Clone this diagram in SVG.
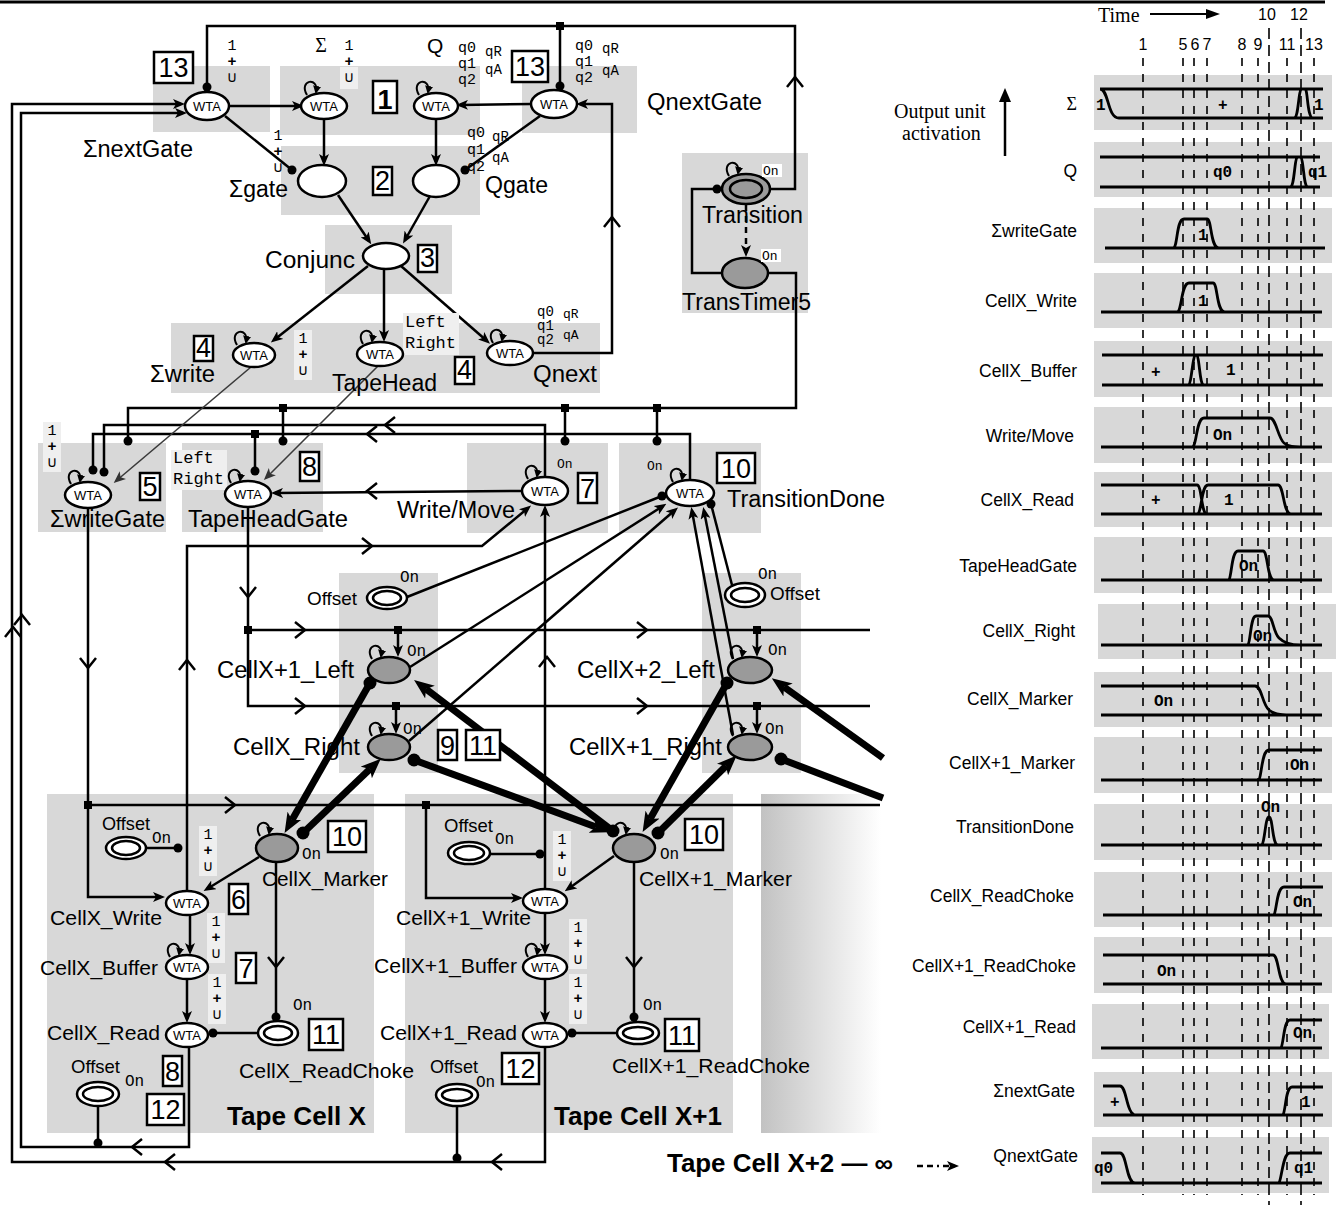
<svg xmlns="http://www.w3.org/2000/svg" width="1336" height="1205" viewBox="0 0 1336 1205">
<defs>
<style>
.box{fill:#d8d8d8}
.ln{fill:none;stroke:#000;stroke-width:2.5}
.ar{marker-end:url(#ah)}
.dt{marker-end:url(#dot)}
.thin{fill:none;stroke:#3a3a3a;stroke-width:1.6;marker-end:url(#ahg)}
.thick{fill:none;stroke:#000;stroke-width:7}
.wta{fill:#fff;stroke:#000;stroke-width:2.5}
.gn{fill:#9a9a9a;stroke:#000;stroke-width:2.5}
.wt{font-family:"Liberation Sans",Arial,sans-serif;font-size:13px;text-anchor:middle}
.t{font-family:"Liberation Sans",Arial,sans-serif;font-size:23.5px}
.tc{font-family:"Liberation Sans",Arial,sans-serif;font-size:21px}
.of{font-family:"Liberation Sans",Arial,sans-serif;font-size:19px}
.bt{font-family:"Liberation Sans",Arial,sans-serif;font-size:25px;font-weight:bold}
.nb{fill:#fff;stroke:#000;stroke-width:2.5}
.nt{font-family:"Liberation Sans",Arial,sans-serif;font-size:27px;text-anchor:middle}
.pl{font-family:"Liberation Mono","DejaVu Sans Mono",monospace;font-size:15px;text-anchor:middle}
.on{font-family:"Liberation Mono","DejaVu Sans Mono",monospace;font-size:16px}
.ons{font-family:"Liberation Mono","DejaVu Sans Mono",monospace;font-size:13px}
.q{font-family:"Liberation Mono","DejaVu Sans Mono",monospace;font-size:15px}
.qs{font-family:"Liberation Mono","DejaVu Sans Mono",monospace;font-size:14px}
.q2{font-family:"Liberation Mono","DejaVu Sans Mono",monospace;font-size:14px}
.qs2{font-family:"Liberation Mono","DejaVu Sans Mono",monospace;font-size:13px}
.lr{font-family:"Liberation Mono","DejaVu Sans Mono",monospace;font-size:17px}
.lb{fill:#efefef}
.sq{fill:#000}
.ch{fill:none;stroke:#000;stroke-width:2.5}
.rl{font-family:"Liberation Sans",Arial,sans-serif;font-size:17.5px;text-anchor:end}
.wv{fill:none;stroke:#000;stroke-width:2.8}
.cl{font-family:"Liberation Mono","DejaVu Sans Mono",monospace;font-size:16px;font-weight:bold}
.dl{stroke:#000;stroke-width:1.6;stroke-dasharray:8 8}
.dl2{stroke:#000;stroke-width:1.6;stroke-dasharray:11 6}
.sr{font-family:"Liberation Serif","Times New Roman",serif;font-size:20px}
.hd{font-family:"Liberation Sans",Arial,sans-serif;font-size:16px;text-anchor:middle}
</style>
<marker id="ah" markerUnits="userSpaceOnUse" viewBox="0 0 12 10" markerWidth="12" markerHeight="10" refX="8" refY="5" orient="auto"><path d="M0,0 L12,5 L0,10 L3,5z"/></marker>
<marker id="ahg" markerUnits="userSpaceOnUse" viewBox="0 0 12 10" markerWidth="12" markerHeight="10" refX="9" refY="5" orient="auto"><path d="M0,0 L12,5 L0,10 L3,5z" fill="#333"/></marker>
<marker id="ahs" markerUnits="userSpaceOnUse" viewBox="0 0 8 8" markerWidth="8" markerHeight="8" refX="6" refY="4" orient="auto"><path d="M0,0 L8,4 L0,8z"/></marker>
<marker id="dot" markerUnits="userSpaceOnUse" viewBox="0 0 10 10" markerWidth="10" markerHeight="10" refX="5" refY="5"><circle cx="5" cy="5" r="4.5"/></marker>
<marker id="ahT" markerUnits="userSpaceOnUse" viewBox="0 0 20 16" markerWidth="20" markerHeight="16" refX="5" refY="8" orient="auto"><path d="M0,0 L20,8 L0,16 L5,8z"/></marker>
<marker id="dotT" markerUnits="userSpaceOnUse" viewBox="0 0 14 14" markerWidth="14" markerHeight="14" refX="7" refY="7"><circle cx="7" cy="7" r="6.5"/></marker>
<path id="chev" class="ch" d="M-5,-8 L5,0 L-5,8"/>
<path id="loop" d="M-17,2 C-26,-13 -5,-17 -8,-1" fill="none" stroke="#000" stroke-width="2" marker-end="url(#ahs)"/>
<linearGradient id="gX2" x1="0" x2="1" y1="0" y2="0"><stop offset="0" stop-color="#c2c2c2"/><stop offset="1" stop-color="#fff"/></linearGradient>
</defs>

<rect width="1336" height="1205" fill="#fff"/>
<path d="M0,2 H1325" stroke="#000" stroke-width="3"/>

<g id="regions">
<rect class="box" x="153" y="66" width="117" height="66"/>
<rect class="box" x="280" y="66" width="200" height="69"/>
<rect class="box" x="522" y="66" width="115" height="67"/>
<rect class="box" x="281" y="146" width="199" height="69"/>
<rect class="box" x="325" y="225" width="127" height="69"/>
<rect class="box" x="171" y="323" width="429" height="70"/>
<rect class="box" x="682" y="153" width="126" height="160"/>
<rect class="box" x="38" y="443" width="128" height="89"/>
<rect class="box" x="182" y="443" width="141" height="89"/>
<rect class="box" x="467" y="443" width="141" height="90"/>
<rect class="box" x="619" y="443" width="142" height="90"/>
<rect class="box" x="339" y="573" width="99" height="200"/>
<rect class="box" x="702" y="573" width="99" height="200"/>
<rect class="box" x="47" y="794" width="327" height="339"/>
<rect class="box" x="405" y="794" width="328" height="339"/>
<rect x="761" y="794" width="120" height="339" fill="url(#gX2)"/>
</g>

<g id="connectors">
<path class="ln ar" d="M229,106 H300"/>
<path class="ln dt" d="M225,116 L292,170"/>
<path class="ln ar" d="M532,104 L460,105"/>
<path class="ln dt" d="M540,116 L465,170"/>
<path class="ln ar" d="M324,119 V162"/>
<path class="ln ar" d="M436,119 V162"/>
<path class="ln ar" d="M338,195 L369,241"/>
<path class="ln ar" d="M430,196 L405,240"/>
<path class="ln ar" d="M368,266 L274,340"/>
<path class="ln ar" d="M384,270 V338"/>
<path class="ln ar" d="M401,266 L487,341"/>
<path class="ln ar" d="M533,353 H612 V104 H580"/>
<path class="ln dt" d="M770,189 H795 V26 H207 V87"/>
<path class="ln dt" d="M560,26 V86"/>
<path class="ln dt" d="M722,273 H692 V189 H717"/>
<path class="ln ar" d="M746,205 V253" stroke-dasharray="6 5"/>
<path class="ln dt" d="M768,273 H796 V408 H128 V441"/>
<path class="ln dt" d="M283,408 V441"/>
<path class="ln dt" d="M565,408 V441"/>
<path class="ln dt" d="M657,408 V441"/>
<path class="ln dt" d="M545,477 V425 H104 V472"/>
<path class="ln dt" d="M690,480 V434 H93 V470"/>
<path class="ln dt" d="M255,434 V471"/>
<path class="ln ar" d="M522,491 L275,493"/>
<path class="ln ar" d="M187,891 V546 H482 L528,508"/>
<path class="ln ar" d="M545,889 V509"/>
<path class="ln" d="M88,508 V805 H880"/>
<path class="ln ar" d="M88,805 V897 H161"/>
<path class="ln ar" d="M426,805 V898 H519"/>
<path class="ln" d="M248,508 V706 H870 M248,630 H870"/>
<path class="ln ar" d="M398,630 V653"/>
<path class="ln ar" d="M396,706 V730"/>
<path class="ln ar" d="M757,630 V653"/>
<path class="ln ar" d="M757,706 V730"/>
<path class="thin" d="M251,367 L116,481"/>
<path class="thin" d="M378,366 L266,478"/>
<path class="ln ar" d="M545,1047 V1162 H12 V104 H181"/>
<path class="ln ar" d="M189,1047 V1147 H21 V113 H183"/>
<path class="ln dt" d="M457,1106 V1158"/>
<path class="ln dt" d="M98,1106 V1143"/>
<path class="ln dt" d="M407,597 L662,496"/>
<path class="ln ar" d="M410,667 L663,506"/>
<path class="ln ar" d="M409,741 L675,510"/>
<path class="ln dt" d="M732,585 L711,504"/>
<path class="ln ar" d="M733,659 L704,511"/>
<path class="ln ar" d="M733,735 L692,511"/>
<path class="thick" d="M370,683 L292,820" marker-start="url(#dotT)" marker-end="url(#ahT)"/>
<path class="thick" d="M303,833 L370,769" marker-start="url(#dotT)" marker-end="url(#ahT)"/>
<path class="thick" d="M414,760 L596,827" marker-start="url(#dotT)" marker-end="url(#ahT)"/>
<path class="thick" d="M613,831 L426,689" marker-start="url(#dotT)" marker-end="url(#ahT)"/>
<path class="thick" d="M727,683 L650,819" marker-start="url(#dotT)" marker-end="url(#ahT)"/>
<path class="thick" d="M658,833 L726,766" marker-start="url(#dotT)" marker-end="url(#ahT)"/>
<path class="thick" d="M883,758 L784,687" marker-end="url(#ahT)"/>
<path class="thick" d="M781,759 L883,798" marker-start="url(#dotT)"/>
<path class="ln dt" d="M146,848 H178"/>
<path class="ln ar" d="M259,857 L207,889"/>
<path class="ln dt" d="M276,862 V1017"/>
<path class="ln ar" d="M190,915 V951"/>
<path class="ln ar" d="M187,979 V1019"/>
<path class="ln dt" d="M258,1033 H213"/>
<path class="ln dt" d="M490,854 H540"/>
<path class="ln ar" d="M614,856 L568,889"/>
<path class="ln dt" d="M634,862 V1017"/>
<path class="ln ar" d="M545,913 V951"/>
<path class="ln ar" d="M545,979 V1019"/>
<path class="ln dt" d="M617,1033 H572"/>
<path class="ln ar" d="M917,1166 H955" stroke-dasharray="6 4 6 4 2 4"/>
<use href="#chev" transform="translate(612,222) rotate(-90)"/>
<use href="#chev" transform="translate(795,82) rotate(-90)"/>
<use href="#chev" transform="translate(390,425) rotate(180)"/>
<use href="#chev" transform="translate(372,434) rotate(180)"/>
<use href="#chev" transform="translate(372,491) rotate(180)"/>
<use href="#chev" transform="translate(367,546)"/>
<use href="#chev" transform="translate(187,665) rotate(-90)"/>
<use href="#chev" transform="translate(547,662) rotate(-90)"/>
<use href="#chev" transform="translate(88,663) rotate(90)"/>
<use href="#chev" transform="translate(230,805)"/>
<use href="#chev" transform="translate(248,592) rotate(90)"/>
<use href="#chev" transform="translate(300,630)"/>
<use href="#chev" transform="translate(642,630)"/>
<use href="#chev" transform="translate(300,706)"/>
<use href="#chev" transform="translate(642,706)"/>
<use href="#chev" transform="translate(276,962) rotate(90)"/>
<use href="#chev" transform="translate(634,962) rotate(90)"/>
<use href="#chev" transform="translate(13,632) rotate(-90)"/>
<use href="#chev" transform="translate(22,620) rotate(-90)"/>
<use href="#chev" transform="translate(170,1162) rotate(180)"/>
<use href="#chev" transform="translate(497,1162) rotate(180)"/>
<use href="#chev" transform="translate(137,1147) rotate(180)"/>
<rect class="sq" x="556" y="22" width="8" height="8"/>
<rect class="sq" x="279" y="404" width="8" height="8"/>
<rect class="sq" x="561" y="404" width="8" height="8"/>
<rect class="sq" x="653" y="404" width="8" height="8"/>
<rect class="sq" x="251" y="430" width="8" height="8"/>
<rect class="sq" x="244" y="626" width="8" height="8"/>
<rect class="sq" x="394" y="626" width="8" height="8"/>
<rect class="sq" x="753" y="626" width="8" height="8"/>
<rect class="sq" x="392" y="702" width="8" height="8"/>
<rect class="sq" x="753" y="702" width="8" height="8"/>
<rect class="sq" x="84" y="801" width="8" height="8"/>
<rect class="sq" x="422" y="801" width="8" height="8"/>
</g>

<g id="annotations">
<g transform="translate(232,45)"><text class="pl" y="5">1</text><text class="pl" y="21" font-weight="bold">+</text><text class="pl" y="37">∪</text></g>
<g transform="translate(278,135)"><text class="pl" y="5">1</text><text class="pl" y="21" font-weight="bold">+</text><text class="pl" y="37">∪</text></g>
<g transform="translate(349,45)"><rect class="lb" x="-9" y="22" width="18" height="22"/><text class="pl" y="5">1</text><text class="pl" y="21" font-weight="bold">+</text><text class="pl" y="37">∪</text></g>
<g transform="translate(303,338)"><rect class="lb" x="-9" y="-8" width="18" height="50"/><text class="pl" y="5">1</text><text class="pl" y="21" font-weight="bold">+</text><text class="pl" y="37">∪</text></g>
<g transform="translate(52,430)"><rect class="lb" x="-9" y="-8" width="18" height="50"/><text class="pl" y="5">1</text><text class="pl" y="21" font-weight="bold">+</text><text class="pl" y="37">∪</text></g>
<g transform="translate(208,834)"><rect class="lb" x="-9" y="-8" width="18" height="50"/><text class="pl" y="5">1</text><text class="pl" y="21" font-weight="bold">+</text><text class="pl" y="37">∪</text></g>
<g transform="translate(216,921)"><rect class="lb" x="-9" y="-8" width="18" height="50"/><text class="pl" y="5">1</text><text class="pl" y="21" font-weight="bold">+</text><text class="pl" y="37">∪</text></g>
<g transform="translate(217,982)"><rect class="lb" x="-9" y="-8" width="18" height="50"/><text class="pl" y="5">1</text><text class="pl" y="21" font-weight="bold">+</text><text class="pl" y="37">∪</text></g>
<g transform="translate(562,839)"><rect class="lb" x="-9" y="-8" width="18" height="50"/><text class="pl" y="5">1</text><text class="pl" y="21" font-weight="bold">+</text><text class="pl" y="37">∪</text></g>
<g transform="translate(578,927)"><rect class="lb" x="-9" y="-8" width="18" height="50"/><text class="pl" y="5">1</text><text class="pl" y="21" font-weight="bold">+</text><text class="pl" y="37">∪</text></g>
<g transform="translate(578,982)"><rect class="lb" x="-9" y="-8" width="18" height="50"/><text class="pl" y="5">1</text><text class="pl" y="21" font-weight="bold">+</text><text class="pl" y="37">∪</text></g>
<text class="q" x="458" y="52">q0</text><text class="qs" x="485" y="56">qR</text><text class="q" x="458" y="68">q1</text><text class="qs" x="485" y="74">qA</text><text class="q" x="458" y="84">q2</text>
<text class="q" x="575" y="50">q0</text><text class="qs" x="602" y="53">qR</text><text class="q" x="575" y="66">q1</text><text class="qs" x="602" y="75">qA</text><text class="q" x="575" y="82">q2</text>
<text class="q" x="467" y="137">q0</text><text class="qs" x="492" y="141">qR</text><text class="q" x="467" y="154">q1</text><text class="qs" x="492" y="162">qA</text><text class="q" x="467" y="171">q2</text>
<text class="q2" x="537" y="316">q0</text><text class="qs2" x="563" y="318">qR</text><text class="q2" x="537" y="330">q1</text><text class="qs2" x="563" y="339">qA</text><text class="q2" x="537" y="344">q2</text>
<rect class="lb" x="403" y="313" width="56" height="42"/><text class="lr" x="405" y="327">Left</text><text class="lr" x="405" y="348">Right</text>
<rect class="lb" x="171" y="450" width="56" height="40"/><text class="lr" x="173" y="463">Left</text><text class="lr" x="173" y="484">Right</text>
</g>

<g id="n-sigma-next-gate"><ellipse class="wta" cx="207" cy="106" rx="22" ry="14"/><text class="wt" x="207" y="111">WTA</text><text class="t" x="83" y="157" textLength="110" lengthAdjust="spacingAndGlyphs">ΣnextGate</text></g>
<g id="n-sigma"><use href="#loop" transform="translate(324,93)"/><ellipse class="wta" cx="324" cy="106" rx="23" ry="13"/><text class="wt" x="324" y="111">WTA</text><text x="321" y="52" font-family="Liberation Serif,serif" font-size="20" text-anchor="middle">Σ</text></g>
<g id="n-q"><use href="#loop" transform="translate(436,93)"/><ellipse class="wta" cx="436" cy="106" rx="22" ry="13"/><text class="wt" x="436" y="111">WTA</text><text x="427" y="53" font-family="Liberation Sans,Arial,sans-serif" font-size="21">Q</text></g>
<g id="n-q-next-gate"><ellipse class="wta" cx="554" cy="104" rx="23" ry="14"/><text class="wt" x="554" y="109">WTA</text><text class="t" x="647" y="110" textLength="115" lengthAdjust="spacingAndGlyphs">QnextGate</text></g>
<g id="n-sigma-gate"><ellipse class="wta" cx="322" cy="181" rx="24" ry="16"/><text class="t" x="229" y="197" textLength="59" lengthAdjust="spacingAndGlyphs">Σgate</text></g>
<g id="n-q-gate"><ellipse class="wta" cx="436" cy="181" rx="23" ry="16"/><text class="t" x="485" y="193" textLength="63" lengthAdjust="spacingAndGlyphs">Qgate</text></g>
<g id="n-conjunc"><ellipse class="wta" cx="386" cy="256" rx="23" ry="13"/><text class="t" x="265" y="268" textLength="90" lengthAdjust="spacingAndGlyphs">Conjunc</text></g>
<g id="n-sigma-write"><use href="#loop" transform="translate(254,343)"/><ellipse class="wta" cx="254" cy="355" rx="21" ry="12"/><text class="wt" x="254" y="360">WTA</text><text class="t" x="150" y="382" textLength="65" lengthAdjust="spacingAndGlyphs">Σwrite</text></g>
<g id="n-tapehead"><use href="#loop" transform="translate(380,342)"/><ellipse class="wta" cx="380" cy="354" rx="23" ry="12"/><text class="wt" x="380" y="359">WTA</text><text class="t" x="332" y="391" textLength="105" lengthAdjust="spacingAndGlyphs">TapeHead</text></g>
<g id="n-qnext"><use href="#loop" transform="translate(510,341)"/><ellipse class="wta" cx="510" cy="353" rx="23" ry="12"/><text class="wt" x="510" y="358">WTA</text><text class="t" x="533" y="382" textLength="64" lengthAdjust="spacingAndGlyphs">Qnext</text></g>
<g id="n-transition"><use href="#loop" transform="translate(746,174)"/><ellipse class="gn" cx="746" cy="189" rx="24" ry="15"/><ellipse class="gn" cx="746" cy="189" rx="16" ry="9" stroke-width="2"/><rect x="762" y="164" width="20" height="13" fill="#fff"/><text class="ons" x="763" y="175">On</text><text class="t" x="702" y="223" textLength="101" lengthAdjust="spacingAndGlyphs">Transition</text></g>
<g id="n-transtimer5"><ellipse class="gn" cx="745" cy="273" rx="23" ry="15"/><rect x="761" y="249" width="20" height="13" fill="#fff"/><text class="ons" x="762" y="260">On</text><text class="t" x="682" y="310" textLength="129" lengthAdjust="spacingAndGlyphs">TransTimer5</text></g>
<g id="n-sigma-write-gate"><use href="#loop" transform="translate(88,482)"/><ellipse class="wta" cx="88" cy="495" rx="23" ry="13"/><text class="wt" x="88" y="500">WTA</text><text class="t" x="50" y="527" textLength="115" lengthAdjust="spacingAndGlyphs">ΣwriteGate</text></g>
<g id="n-tapehead-gate"><use href="#loop" transform="translate(248,481)"/><ellipse class="wta" cx="248" cy="494" rx="23" ry="13"/><text class="wt" x="248" y="499">WTA</text><text class="t" x="188" y="527" textLength="160" lengthAdjust="spacingAndGlyphs">TapeHeadGate</text></g>
<g id="n-write-move"><use href="#loop" transform="translate(545,477)"/><ellipse class="wta" cx="545" cy="491" rx="23" ry="14"/><text class="wt" x="545" y="496">WTA</text><text class="ons" x="557" y="468">On</text><text class="t" x="397" y="518" textLength="118" lengthAdjust="spacingAndGlyphs">Write/Move</text></g>
<g id="n-transition-done"><use href="#loop" transform="translate(690,480)"/><ellipse class="wta" cx="690" cy="493" rx="24" ry="13"/><text class="wt" x="690" y="498">WTA</text><text class="ons" x="647" y="470">On</text><text class="t" x="727" y="507" textLength="158" lengthAdjust="spacingAndGlyphs">TransitionDone</text></g>
<g id="n-offset-left"><ellipse class="wta" cx="387" cy="598" rx="20" ry="11"/><ellipse class="wta" cx="387" cy="598" rx="14" ry="7" stroke-width="2"/><text class="on" x="400" y="582">On</text><text class="of" x="307" y="605" textLength="50" lengthAdjust="spacingAndGlyphs">Offset</text></g>
<g id="n-cellx1-left"><use href="#loop" transform="translate(389,657)"/><ellipse class="gn" cx="389" cy="670" rx="21" ry="13"/><text class="on" x="407" y="656">On</text><text class="t" x="217" y="678" textLength="137" lengthAdjust="spacingAndGlyphs">CellX+1_Left</text></g>
<g id="n-cellx-right"><use href="#loop" transform="translate(389,734)"/><ellipse class="gn" cx="389" cy="747" rx="21" ry="13"/><text class="on" x="403" y="734">On</text><text class="t" x="233" y="755" textLength="127" lengthAdjust="spacingAndGlyphs">CellX_Right</text></g>
<g id="n-offset-right"><ellipse class="wta" cx="745" cy="595" rx="20" ry="12"/><ellipse class="wta" cx="745" cy="595" rx="14" ry="7" stroke-width="2"/><text class="on" x="758" y="579">On</text><text class="of" x="770" y="600" textLength="50" lengthAdjust="spacingAndGlyphs">Offset</text></g>
<g id="n-cellx2-left"><use href="#loop" transform="translate(750,657)"/><ellipse class="gn" cx="750" cy="670" rx="22" ry="13"/><text class="on" x="768" y="655">On</text><text class="t" x="577" y="678" textLength="138" lengthAdjust="spacingAndGlyphs">CellX+2_Left</text></g>
<g id="n-cellx1-right"><use href="#loop" transform="translate(750,734)"/><ellipse class="gn" cx="750" cy="747" rx="22" ry="13"/><text class="on" x="765" y="734">On</text><text class="t" x="569" y="755" textLength="153" lengthAdjust="spacingAndGlyphs">CellX+1_Right</text></g>

<g id="n-cellx-offset-top"><ellipse class="wta" cx="126" cy="848" rx="20" ry="11"/><ellipse class="wta" cx="126" cy="848" rx="14" ry="7" stroke-width="2"/><text class="on" x="152" y="843">On</text><text class="of" x="102" y="830" textLength="48" lengthAdjust="spacingAndGlyphs">Offset</text></g>
<g id="n-cellx-marker"><use href="#loop" transform="translate(277,834)"/><ellipse class="gn" cx="277" cy="848" rx="21" ry="14"/><text class="on" x="302" y="859">On</text><text class="tc" x="262" y="886" textLength="126" lengthAdjust="spacingAndGlyphs">CellX_Marker</text></g>
<g id="n-cellx-write"><ellipse class="wta" cx="187" cy="903" rx="21" ry="12"/><text class="wt" x="187" y="908">WTA</text><text class="tc" x="50" y="925" textLength="112" lengthAdjust="spacingAndGlyphs">CellX_Write</text></g>
<g id="n-cellx-buffer"><use href="#loop" transform="translate(187,955)"/><ellipse class="wta" cx="187" cy="967" rx="21" ry="12"/><text class="wt" x="187" y="972">WTA</text><text class="tc" x="40" y="975" textLength="118" lengthAdjust="spacingAndGlyphs">CellX_Buffer</text></g>
<g id="n-cellx-read"><ellipse class="wta" cx="187" cy="1035" rx="21" ry="12"/><text class="wt" x="187" y="1040">WTA</text><text class="tc" x="47" y="1040" textLength="113" lengthAdjust="spacingAndGlyphs">CellX_Read</text></g>
<g id="n-cellx-readchoke"><ellipse class="wta" cx="278" cy="1033" rx="20" ry="12"/><ellipse class="wta" cx="278" cy="1033" rx="14" ry="7" stroke-width="2"/><text class="on" x="293" y="1010">On</text><text class="tc" x="239" y="1078" textLength="175" lengthAdjust="spacingAndGlyphs">CellX_ReadChoke</text></g>
<g id="n-cellx-offset-bottom"><ellipse class="wta" cx="98" cy="1094" rx="21" ry="12"/><ellipse class="wta" cx="98" cy="1094" rx="15" ry="7" stroke-width="2"/><text class="on" x="125" y="1086">On</text><text class="of" x="71" y="1073" textLength="49" lengthAdjust="spacingAndGlyphs">Offset</text></g>
<text class="bt" x="227" y="1125" textLength="139" lengthAdjust="spacingAndGlyphs">Tape Cell X</text>

<g id="n-cellx1-offset-top"><ellipse class="wta" cx="469" cy="853" rx="21" ry="11"/><ellipse class="wta" cx="469" cy="853" rx="15" ry="7" stroke-width="2"/><text class="on" x="495" y="844">On</text><text class="of" x="444" y="832" textLength="49" lengthAdjust="spacingAndGlyphs">Offset</text></g>
<g id="n-cellx1-marker"><use href="#loop" transform="translate(634,834)"/><ellipse class="gn" cx="634" cy="848" rx="21" ry="14"/><text class="on" x="660" y="859">On</text><text class="tc" x="639" y="886" textLength="153" lengthAdjust="spacingAndGlyphs">CellX+1_Marker</text></g>
<g id="n-cellx1-write"><ellipse class="wta" cx="545" cy="901" rx="22" ry="12"/><text class="wt" x="545" y="906">WTA</text><text class="tc" x="396" y="925" textLength="135" lengthAdjust="spacingAndGlyphs">CellX+1_Write</text></g>
<g id="n-cellx1-buffer"><use href="#loop" transform="translate(545,955)"/><ellipse class="wta" cx="545" cy="967" rx="22" ry="12"/><text class="wt" x="545" y="972">WTA</text><text class="tc" x="374" y="973" textLength="143" lengthAdjust="spacingAndGlyphs">CellX+1_Buffer</text></g>
<g id="n-cellx1-read"><ellipse class="wta" cx="545" cy="1035" rx="22" ry="12"/><text class="wt" x="545" y="1040">WTA</text><text class="tc" x="380" y="1040" textLength="137" lengthAdjust="spacingAndGlyphs">CellX+1_Read</text></g>
<g id="n-cellx1-readchoke"><ellipse class="wta" cx="638" cy="1033" rx="21" ry="11"/><ellipse class="wta" cx="638" cy="1033" rx="15" ry="6" stroke-width="2"/><text class="on" x="643" y="1010">On</text><text class="tc" x="612" y="1073" textLength="198" lengthAdjust="spacingAndGlyphs">CellX+1_ReadChoke</text></g>
<g id="n-cellx1-offset-bottom"><ellipse class="wta" cx="457" cy="1095" rx="21" ry="11"/><ellipse class="wta" cx="457" cy="1095" rx="15" ry="6" stroke-width="2"/><text class="on" x="476" y="1087">On</text><text class="of" x="430" y="1073" textLength="48" lengthAdjust="spacingAndGlyphs">Offset</text></g>
<text class="bt" x="554" y="1125" textLength="168" lengthAdjust="spacingAndGlyphs">Tape Cell X+1</text>
<text class="bt" x="667" y="1172" textLength="226" lengthAdjust="spacingAndGlyphs">Tape Cell X+2 — ∞</text>

<g id="step-numbers">
<rect class="nb" x="154" y="52" width="39" height="31"/><text class="nt" x="173.5" y="77">13</text>
<rect class="nb" x="512" y="51" width="36" height="31"/><text class="nt" x="530" y="76">13</text>
<rect class="nb" x="373" y="81" width="24" height="32"/><text class="nt" x="385" y="109" font-size="34" font-weight="bold">1</text>
<rect class="nb" x="373" y="167" width="19" height="28"/><text class="nt" x="382.5" y="190" font-size="25">2</text>
<rect class="nb" x="418" y="245" width="19" height="27"/><text class="nt" x="427.5" y="267" font-size="25">3</text>
<rect class="nb" x="194" y="336" width="19" height="25"/><text class="nt" x="203.5" y="357" font-size="25">4</text>
<rect class="nb" x="455" y="357" width="19" height="27"/><text class="nt" x="464.5" y="379" font-size="25">4</text>
<rect class="nb" x="140" y="473" width="20" height="27"/><text class="nt" x="150" y="496">5</text>
<rect class="nb" x="300" y="452" width="19" height="29"/><text class="nt" x="309.5" y="476">8</text>
<rect class="nb" x="578" y="473" width="19" height="30"/><text class="nt" x="587.5" y="498">7</text>
<rect class="nb" x="717" y="453" width="38" height="30"/><text class="nt" x="736" y="478">10</text>
<rect class="nb" x="438" y="730" width="19" height="30"/><text class="nt" x="447.5" y="755">9</text>
<rect class="nb" x="466" y="730" width="34" height="30"/><text class="nt" x="483" y="755">11</text>
<rect class="nb" x="328" y="821" width="38" height="31"/><text class="nt" x="347" y="846">10</text>
<rect class="nb" x="229" y="884" width="19" height="30"/><text class="nt" x="238.5" y="909">6</text>
<rect class="nb" x="236" y="953" width="20" height="30"/><text class="nt" x="246" y="978">7</text>
<rect class="nb" x="309" y="1019" width="34" height="31"/><text class="nt" x="326" y="1044">11</text>
<rect class="nb" x="163" y="1056" width="19" height="30"/><text class="nt" x="172.5" y="1081">8</text>
<rect class="nb" x="147" y="1094" width="37" height="31"/><text class="nt" x="165.5" y="1119">12</text>
<rect class="nb" x="685" y="819" width="38" height="31"/><text class="nt" x="704" y="844">10</text>
<rect class="nb" x="665" y="1019" width="34" height="32"/><text class="nt" x="682" y="1045">11</text>
<rect class="nb" x="502" y="1053" width="37" height="31"/><text class="nt" x="520.5" y="1078">12</text>
</g>

<g id="timing-chart">
<text class="sr" x="1098" y="22">Time</text>
<path d="M1150,14 H1210" stroke="#000" stroke-width="2"/><path d="M1206,9 L1220,14 L1206,19z"/>
<text class="hd" x="1267" y="20">10</text><text class="hd" x="1299" y="20">12</text>
<text class="hd" x="1143" y="50">1</text><text class="hd" x="1183" y="50">5</text><text class="hd" x="1195" y="50">6</text><text class="hd" x="1207" y="50">7</text><text class="hd" x="1242" y="50">8</text><text class="hd" x="1258" y="50">9</text><text class="hd" x="1287" y="50">11</text><text class="hd" x="1314" y="50">13</text>
<text class="sr" x="894" y="118">Output unit</text><text class="sr" x="902" y="140">activation</text>
<path d="M1005,156 V100" stroke="#000" stroke-width="2.5"/><path d="M999,102 L1005,88 L1011,102z"/>
<g id="row-boxes" fill="#d8d8d8">
<rect x="1094" y="75" width="238" height="55"/>
<rect x="1094" y="142" width="238" height="55"/>
<rect x="1094" y="208" width="238" height="55"/>
<rect x="1094" y="273" width="238" height="55"/>
<rect x="1094" y="341" width="238" height="56"/>
<rect x="1094" y="407" width="238" height="56"/>
<rect x="1094" y="472" width="238" height="55"/>
<rect x="1094" y="537" width="238" height="56"/>
<rect x="1098" y="604" width="238" height="55"/>
<rect x="1094" y="672" width="238" height="55"/>
<rect x="1094" y="737" width="238" height="56"/>
<rect x="1094" y="804" width="238" height="56"/>
<rect x="1094" y="872" width="238" height="55"/>
<rect x="1094" y="937" width="238" height="56"/>
<rect x="1092" y="1004" width="237" height="55"/>
<rect x="1094" y="1072" width="238" height="55"/>
<rect x="1092" y="1137" width="237" height="56"/>
</g>
<g id="time-marks">
<path class="dl" d="M1143,58 V1195 M1183,58 V1195 M1194,58 V1195 M1207,58 V1195 M1242,58 V1195 M1258,58 V1195 M1287,58 V1195 M1314,58 V1195"/>
<path class="dl2" d="M1269,28 V1205 M1301,28 V1205"/>
</g>
<g id="row-labels">
<text x="1077" y="110" font-family="Liberation Serif,serif" font-size="18" text-anchor="end">Σ</text>
<text class="rl" x="1077" y="177" font-size="19">Q</text>
<text class="rl" x="1077" y="237">ΣwriteGate</text>
<text class="rl" x="1077" y="307">CellX_Write</text>
<text class="rl" x="1077" y="377">CellX_Buffer</text>
<text class="rl" x="1074" y="442">Write/Move</text>
<text class="rl" x="1074" y="506">CellX_Read</text>
<text class="rl" x="1077" y="572">TapeHeadGate</text>
<text class="rl" x="1075" y="637">CellX_Right</text>
<text class="rl" x="1073" y="705">CellX_Marker</text>
<text class="rl" x="1075" y="769">CellX+1_Marker</text>
<text class="rl" x="1074" y="833">TransitionDone</text>
<text class="rl" x="1074" y="902">CellX_ReadChoke</text>
<text class="rl" x="1076" y="972">CellX+1_ReadChoke</text>
<text class="rl" x="1076" y="1033">CellX+1_Read</text>
<text class="rl" x="1075" y="1097">ΣnextGate</text>
<text class="rl" x="1078" y="1162">QnextGate</text>
</g>
<g id="waves">
<path class="wv" d="M1100,89 H1323 M1118,118 H1323 M1100,89 C1109,89 1107,118 1119,118 M1294,118 C1299,118 1298,89 1302,89 L1305,89 C1308,89 1307,118 1313,118"/>
<path class="wv" d="M1100,157 H1320 M1100,187 H1320 M1290,187 C1295,187 1294,157 1298,157 L1300,157 C1304,157 1303,187 1308,187"/>
<path class="wv" d="M1105,248 H1325 M1173,248 C1178,248 1176,219 1184,219 L1207,219 C1212,219 1210,248 1219,248"/>
<path class="wv" d="M1101,312 H1322 M1177,312 C1182,312 1181,283 1189,283 L1213,283 C1218,283 1216,312 1225,312"/>
<path class="wv" d="M1102,355 H1323 M1102,385 H1323 M1188,385 C1192,385 1192,355 1196,355 C1200,355 1199,385 1204,385"/>
<path class="wv" d="M1101,447 H1322 M1192,447 C1197,447 1196,418 1204,418 L1270,418 C1276,418 1278,438 1284,443 C1289,447 1294,447 1300,447"/>
<path class="wv" d="M1101,485 H1197 M1101,514 H1322 M1197,485 C1202,485 1201,514 1207,514 M1197,514 C1202,514 1201,485 1208,485 L1278,485 C1284,485 1283,514 1291,514"/>
<path class="wv" d="M1101,580 H1322 M1228,580 C1232,580 1231,551 1238,551 L1263,551 C1268,551 1267,580 1274,580"/>
<path class="wv" d="M1101,645 H1322 M1247,645 C1251,645 1250,616 1256,616 L1268,616 C1273,616 1273,632 1279,638 C1285,644 1292,645 1300,645"/>
<path class="wv" d="M1101,715 H1322 M1101,686 H1255 C1262,686 1262,704 1269,710 C1275,715 1284,715 1295,715"/>
<path class="wv" d="M1101,780 H1322 M1258,780 C1262,780 1261,750 1269,750 H1322"/>
<path class="wv" d="M1101,845 H1322 M1261,845 C1265,845 1265,817 1269,817 C1273,817 1272,845 1278,845"/>
<path class="wv" d="M1103,915 H1322 M1273,915 C1277,915 1276,887 1284,887 H1323"/>
<path class="wv" d="M1103,984 H1322 M1103,955 H1273 C1279,955 1278,984 1286,984"/>
<path class="wv" d="M1101,1048 H1322 M1280,1048 C1284,1048 1283,1020 1290,1020 H1322"/>
<path class="wv" d="M1103,1115 H1323 M1103,1086 H1120 C1127,1086 1126,1115 1136,1115 M1282,1115 C1286,1115 1285,1087 1292,1087 H1323"/>
<path class="wv" d="M1101,1183 H1322 M1101,1153 H1120 C1127,1153 1126,1183 1135,1183 M1278,1183 C1282,1183 1282,1153 1290,1153 H1322"/>
</g>
<g id="wave-labels">
<text class="cl" x="1096" y="110">1</text><text class="cl" x="1218" y="110">+</text><text class="cl" x="1314" y="110">1</text>
<text class="cl" x="1213" y="177">q0</text><text class="cl" x="1308" y="177">q1</text>
<text class="cl" x="1198" y="240">1</text>
<text class="cl" x="1198" y="306">1</text>
<text class="cl" x="1151" y="377">+</text><text class="cl" x="1226" y="375">1</text>
<text class="cl" x="1213" y="440">On</text>
<text class="cl" x="1151" y="505">+</text><text class="cl" x="1224" y="505">1</text>
<text class="cl" x="1239" y="571">On</text>
<text class="cl" x="1253" y="641">On</text>
<text class="cl" x="1154" y="706">On</text>
<text class="cl" x="1290" y="770">On</text>
<text class="cl" x="1261" y="812">On</text>
<text class="cl" x="1293" y="907">On</text>
<text class="cl" x="1157" y="976">On</text>
<text class="cl" x="1293" y="1038">On</text>
<text class="cl" x="1110" y="1107">+</text><text class="cl" x="1301" y="1107">1</text>
<text class="cl" x="1094" y="1173">q0</text><text class="cl" x="1294" y="1173">q1</text>
</g>
</g>
</svg>
